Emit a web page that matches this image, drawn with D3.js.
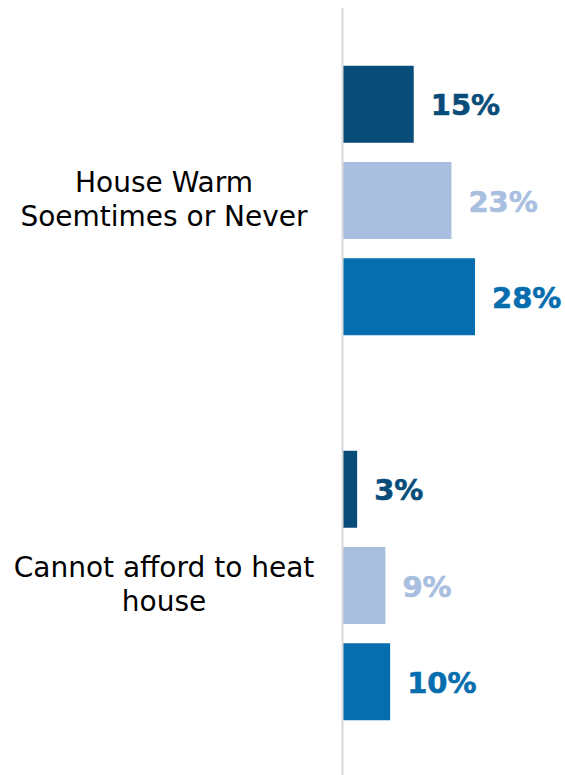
<!DOCTYPE html>
<html>
<head>
<meta charset="utf-8">
<script src="https://cdn.jsdelivr.net/npm/d3@7"></script>
<style>
  html, body { margin: 0; padding: 0; background: #ffffff; }
  svg { display: block; }
</style>
</head>
<body>
<svg id="chart" width="565" height="775"></svg>
<script>
// ---- data ----
const categories = ["House Warm Soemtimes or Never", "Cannot afford to heat house"];
const categoryLines = [["House Warm", "Soemtimes or Never"], ["Cannot afford to heat", "house"]];
const series = ["Series A", "Series B", "Series C"];
const seriesValues = [
  [15, 3],   // Series A (dark navy)
  [23, 9],   // Series B (light blue)
  [28, 10]   // Series C (medium blue)
];
const seriesColors = ["#084c7a", "#a9bfdf", "#066eaf"];

// ---- layout ----
const W = 565, H = 775;
const axisX = 343;
const svg = d3.select("#chart");

const y0 = d3.scaleBand().domain(categories).range([8, 778]).paddingInner(0).paddingOuter(0);
const y1 = d3.scaleBand().domain(series).range([0, y0.bandwidth()]).paddingInner(0.2).paddingOuter(0.6);
const x = d3.scaleLinear().domain([0, 28]).range([axisX, 475]);

const rows = [];
categories.forEach((c, ci) => {
  series.forEach((s, si) => {
    rows.push({ cat: c, ser: s, si, value: seriesValues[si][ci] });
  });
});

// bars
svg.append("g").selectAll("rect").data(rows).join("rect")
  .attr("x", x(0))
  .attr("y", d => y0(d.cat) + y1(d.ser))
  .attr("width", d => x(d.value) - x(0))
  .attr("height", y1.bandwidth())
  .attr("fill", d => seriesColors[d.si]);

// value labels
svg.append("g").selectAll("text").data(rows).join("text")
  .attr("x", d => x(d.value) + 17)
  .attr("y", d => y0(d.cat) + y1(d.ser) + y1.bandwidth() / 2 + 11)
  .attr("fill", d => seriesColors[d.si])
  .attr("font-family", "'DejaVu Sans', Verdana, sans-serif")
  .attr("font-weight", "bold")
  .attr("font-size", "29px")
  .attr("stroke", d => seriesColors[d.si])
  .attr("stroke-width", 0.6)
  .text(d => d.value + "%");

// axis line (category axis, no ticks)
const axis = d3.axisLeft(y0).tickSize(0).tickFormat("");
const gAxis = svg.append("g").attr("transform", `translate(${axisX - 0.5},0)`).call(axis);
gAxis.select(".domain").attr("stroke", "#d9d9d9").attr("stroke-width", 2)
  .attr("d", `M0,8V${H}`);

// category labels
const lineGap = 34.5;
const gLab = svg.append("g");
categories.forEach((c, ci) => {
  const lines = categoryLines[ci];
  const cy = y0(c) + y0.bandwidth() / 2 + 8.5;
  const t = gLab.append("text")
    .attr("text-anchor", "middle")
    .attr("font-family", "'DejaVu Sans', Verdana, sans-serif")
    .attr("font-size", "28px")
    .attr("fill", "#000000");
  lines.forEach((ln, li) => {
    t.append("tspan")
      .attr("x", 164)
      .attr("y", cy + (li - (lines.length - 1) / 2) * lineGap)
      .text(ln);
  });
});
</script>
</body>
</html>
